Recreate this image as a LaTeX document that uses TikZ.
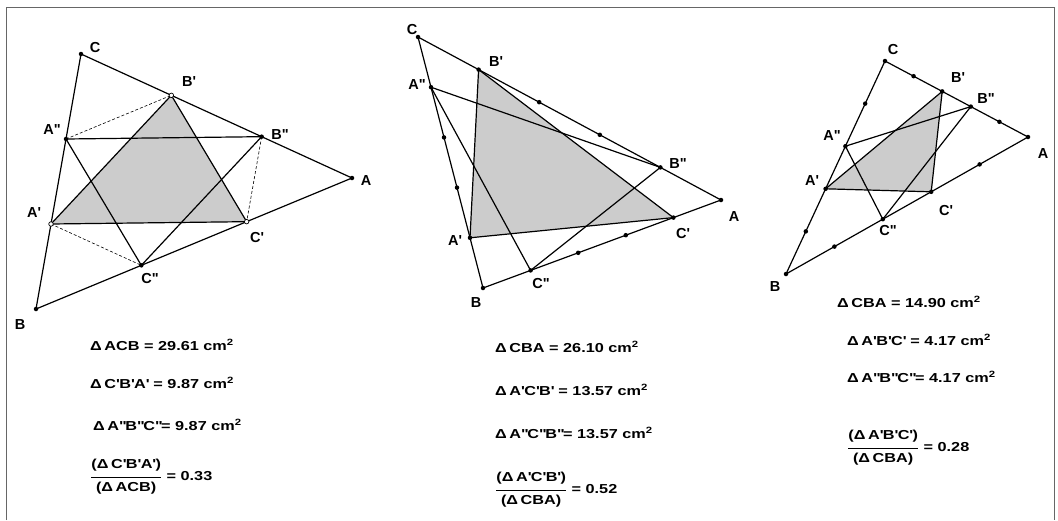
\documentclass[tikz,border=0pt]{standalone}
\usepackage{amsmath}
\usepackage{fontspec}
\setmainfont{Liberation Sans}
\newfontfamily\measfont{Liberation Sans}[FakeStretch=1.25]
\usetikzlibrary{calc}
\newcommand{\ap}{\textquotesingle}
\newcommand{\dap}{\textquotedbl}
\newcommand{\sqcm}{cm\textsuperscript{2}}
\newcommand{\tri}{Δ\hspace{0.2em}}
\newcommand{\ratio}[3]{$\genfrac{}{}{1pt}{0}{\text{\strut(#1)}}{\text{\strut(#2)}}$ = #3}

\begin{document}
\begin{tikzpicture}[x=1pt, y=-1pt,
  side/.style={line width=1.2pt},
  hidden/.style={line width=0.6pt, dash pattern=on 3pt off 2pt},
  inner/.style={fill=black!20},
  dot/.style={circle, fill=black, inner sep=0pt, minimum size=4.5pt},
  hollow/.style={circle, draw, fill=white, inner sep=0pt, minimum size=4.5pt, line width=0.7pt},
  lbl/.style={font=\bfseries\fontsize{14.5}{17}\selectfont, inner sep=0pt},
  meas/.style={anchor=west, inner sep=0pt, font=\measfont\bfseries\fontsize{13}{15.5}\selectfont}
]
\useasboundingbox (0,0) rectangle (1058,520);
\draw[black!60, line width=0.8pt] (6,520) |- (1054,7) -- (1054,520);

% left figure, sides cut in thirds
\coordinate (A1) at (352,178);
\coordinate (B1) at (36,309);
\coordinate (C1) at (81,54);
\coordinate (Ap1) at ($(C1)!2/3!(B1)$);
\coordinate (App1) at ($(C1)!1/3!(B1)$);
\coordinate (Bp1) at ($(C1)!1/3!(A1)$);
\coordinate (Bpp1) at ($(C1)!2/3!(A1)$);
\coordinate (Cp1) at ($(B1)!2/3!(A1)$);
\coordinate (Cpp1) at ($(B1)!1/3!(A1)$);
\fill[inner] (Ap1) -- (Bp1) -- (Cp1) -- cycle;
\draw[side] (A1) -- (B1) -- (C1) -- cycle;
\draw[side] (Ap1) -- (Bp1) -- (Cp1) -- cycle;
\draw[side] (App1) -- (Bpp1) -- (Cpp1) -- cycle;
\draw[hidden] (App1) -- (Bp1);
\draw[hidden] (Bpp1) -- (Cp1);
\draw[hidden] (Ap1) -- (Cpp1);
\node[dot] (dA1) at (A1) {};
\node[dot] (dB1) at (B1) {};
\node[dot] (dC1) at (C1) {};
\node[dot] (dApp1) at (App1) {};
\node[dot] (dBpp1) at (Bpp1) {};
\node[dot] (dCpp1) at (Cpp1) {};
\node[hollow] (dAp1) at (Ap1) {};
\node[hollow] (dBp1) at (Bp1) {};
\node[hollow] (dCp1) at (Cp1) {};
\node[lbl] (lA1) at (366,181) {A};
\node[lbl] (lB1) at (20,325) {B};
\node[lbl] (lC1) at (95,48) {C};
\node[lbl] (lAp1) at (34,213) {A\ap};
\node[lbl] (lApp1) at (52,130) {A\dap};
\node[lbl] (lBp1) at (189,82) {B\ap};
\node[lbl] (lBpp1) at (280,135) {B\dap};
\node[lbl] (lCp1) at (257,238) {C\ap};
\node[lbl] (lCpp1) at (150,279) {C\dap};
\node[meas] (m1a) at (90,345) {\tri ACB = 29.61 \sqcm};
\node[meas] (m1b) at (90,383) {\tri C\ap B\ap A\ap{} = 9.87 \sqcm};
\node[meas] (m1c) at (93,425) {\tri A\dap B\dap C\dap{}= 9.87 \sqcm};
\node[meas] (m1d) at (90,477) {\ratio{\tri C\ap B\ap A\ap}{\tri ACB}{0.33}};

% middle figure, sides cut in fifths
\coordinate (A2) at (721,200);
\coordinate (B2) at (483,288);
\coordinate (C2) at (418,37);
\coordinate (Ap2) at ($(C2)!0.8!(B2)$);
\coordinate (App2) at ($(C2)!0.2!(B2)$);
\coordinate (Bp2) at ($(C2)!0.2!(A2)$);
\coordinate (Bpp2) at ($(C2)!0.8!(A2)$);
\coordinate (Cp2) at ($(B2)!0.8!(A2)$);
\coordinate (Cpp2) at ($(B2)!0.2!(A2)$);
\fill[inner] (Ap2) -- (Bp2) -- (Cp2) -- cycle;
\draw[side] (A2) -- (B2) -- (C2) -- cycle;
\draw[side] (Ap2) -- (Bp2) -- (Cp2) -- cycle;
\draw[side] (App2) -- (Bpp2) -- (Cpp2) -- cycle;
\node[dot] (dA2) at (A2) {};
\node[dot] (dB2) at (B2) {};
\node[dot] (dC2) at (C2) {};
\node[dot] (dAp2) at (Ap2) {};
\node[dot] (dApp2) at (App2) {};
\node[dot] (dBp2) at (Bp2) {};
\node[dot] (dBpp2) at (Bpp2) {};
\node[dot] (dCp2) at (Cp2) {};
\node[dot] (dCpp2) at (Cpp2) {};
\node[dot] (t2a) at ($(C2)!0.4!(B2)$) {};
\node[dot] (t2b) at ($(C2)!0.6!(B2)$) {};
\node[dot] (t2c) at ($(C2)!0.4!(A2)$) {};
\node[dot] (t2d) at ($(C2)!0.6!(A2)$) {};
\node[dot] (t2e) at ($(B2)!0.4!(A2)$) {};
\node[dot] (t2f) at ($(B2)!0.6!(A2)$) {};
\node[lbl] (lA2) at (734,217) {A};
\node[lbl] (lB2) at (476,303) {B};
\node[lbl] (lC2) at (412,30) {C};
\node[lbl] (lAp2) at (455,241) {A\ap};
\node[lbl] (lApp2) at (417,85) {A\dap};
\node[lbl] (lBp2) at (496,62) {B\ap};
\node[lbl] (lBpp2) at (678,164) {B\dap};
\node[lbl] (lCp2) at (683,234) {C\ap};
\node[lbl] (lCpp2) at (541,284) {C\dap};
\node[meas] (m2a) at (495,347) {\tri CBA = 26.10 \sqcm};
\node[meas] (m2b) at (495,390) {\tri A\ap C\ap B\ap{} = 13.57 \sqcm};
\node[meas] (m2c) at (495,433) {\tri A\dap C\dap B\dap{}= 13.57 \sqcm};
\node[meas] (m2d) at (495,490) {\ratio{\tri A\ap C\ap B\ap}{\tri CBA}{0.52}};

% right figure, points at 2/5 and 3/5
\coordinate (A3) at (1028,137);
\coordinate (B3) at (786,274);
\coordinate (C3) at (885,61);
\coordinate (Ap3) at ($(C3)!0.6!(B3)$);
\coordinate (App3) at ($(C3)!0.4!(B3)$);
\coordinate (Bp3) at ($(C3)!0.4!(A3)$);
\coordinate (Bpp3) at ($(C3)!0.6!(A3)$);
\coordinate (Cp3) at ($(B3)!0.6!(A3)$);
\coordinate (Cpp3) at ($(B3)!0.4!(A3)$);
\fill[inner] (Ap3) -- (Bp3) -- (Cp3) -- cycle;
\draw[side] (A3) -- (B3) -- (C3) -- cycle;
\draw[side] (Ap3) -- (Bp3) -- (Cp3) -- cycle;
\draw[side] (App3) -- (Bpp3) -- (Cpp3) -- cycle;
\node[dot] (dA3) at (A3) {};
\node[dot] (dB3) at (B3) {};
\node[dot] (dC3) at (C3) {};
\node[dot] (dAp3) at (Ap3) {};
\node[dot] (dApp3) at (App3) {};
\node[dot] (dBp3) at (Bp3) {};
\node[dot] (dBpp3) at (Bpp3) {};
\node[dot] (dCp3) at (Cp3) {};
\node[dot] (dCpp3) at (Cpp3) {};
\node[dot] (t3a) at ($(C3)!0.2!(B3)$) {};
\node[dot] (t3b) at ($(C3)!0.8!(B3)$) {};
\node[dot] (t3c) at ($(C3)!0.2!(A3)$) {};
\node[dot] (t3d) at ($(C3)!0.8!(A3)$) {};
\node[dot] (t3e) at ($(B3)!0.2!(A3)$) {};
\node[dot] (t3f) at ($(B3)!0.8!(A3)$) {};
\node[lbl] (lA3) at (1043,154) {A};
\node[lbl] (lB3) at (775,287) {B};
\node[lbl] (lC3) at (893,50) {C};
\node[lbl] (lAp3) at (812,181) {A\ap};
\node[lbl] (lApp3) at (832,136) {A\dap};
\node[lbl] (lBp3) at (958,78) {B\ap};
\node[lbl] (lBpp3) at (986,99) {B\dap};
\node[lbl] (lCp3) at (946,211) {C\ap};
\node[lbl] (lCpp3) at (888,231) {C\dap};
\node[meas] (m3a) at (837,302) {\tri CBA = 14.90 \sqcm};
\node[meas] (m3b) at (847,340) {\tri A\ap B\ap C\ap{} = 4.17 \sqcm};
\node[meas] (m3c) at (847,377) {\tri A\dap B\dap C\dap{}= 4.17 \sqcm};
\node[meas] (m3d) at (847,448) {\ratio{\tri A\ap B\ap C\ap}{\tri CBA}{0.28}};
\end{tikzpicture}
\end{document}
